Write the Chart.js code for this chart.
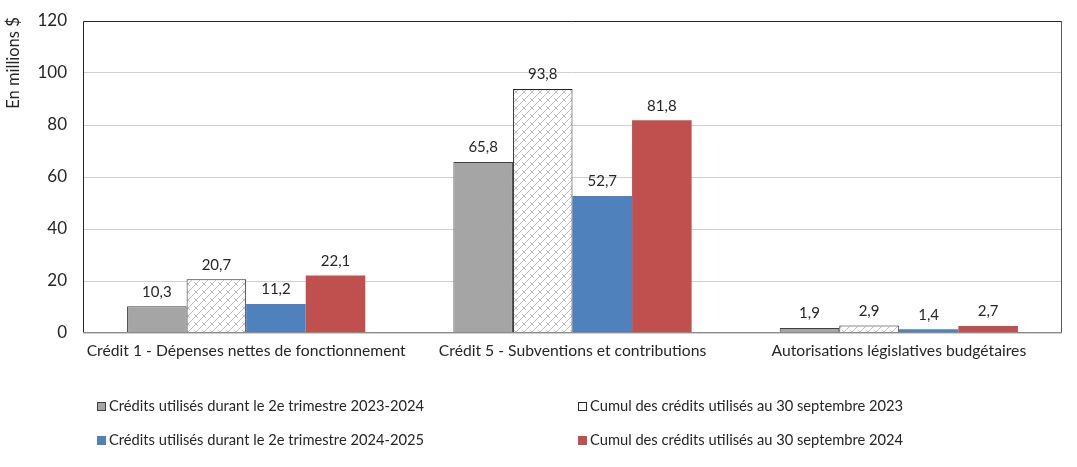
<!DOCTYPE html>
<html>
<head>
<meta charset="utf-8">
<script src="https://cdn.jsdelivr.net/npm/chart.js@4"></script>
<style>
  body { margin: 0; background: #fff; }
  #wrap { position: relative; width: 1077px; height: 467px; }
  .leg { position: absolute; font: 14.7px "Lato", sans-serif; color: #262626; white-space: nowrap; }
  .leg i { display: inline-block; width: 9px; height: 9px; margin-right: 3px; vertical-align: 0px; box-sizing: border-box; }
</style>
</head>
<body>
<div id="wrap">
  <canvas id="c" width="1077" height="467"></canvas>
</div>
<script>
const categories = [
  "Crédit 1 - Dépenses nettes de fonctionnement",
  "Crédit 5 - Subventions et contributions",
  "Autorisations législatives budgétaires"
];
const seriesNames = [
  "Crédits utilisés durant le 2e trimestre 2023-2024",
  "Cumul des crédits utilisés au 30 septembre 2023",
  "Crédits utilisés durant le 2e trimestre 2024-2025",
  "Cumul des crédits utilisés au 30 septembre 2024"
];
const q2_2023 = [10.3, 65.8, 1.9];
const cumul2023 = [20.7, 93.8, 2.9];
const q2_2024 = [11.2, 52.7, 1.4];
const cumul2024 = [22.1, 81.8, 2.7];
const yTicks = [0, 20, 40, 60, 80, 100, 120];

// brick-like hatch for the hollow series
function makeHatch() {
  const t = document.createElement("canvas");
  t.width = 8; t.height = 8;
  const g = t.getContext("2d");
  g.fillStyle = "#fff";
  g.fillRect(0, 0, 8, 8);
  g.strokeStyle = "#ababab";
  g.lineWidth = 0.8;
  g.beginPath();
  g.moveTo(0, 8); g.lineTo(8, 0);
  g.moveTo(2, 2); g.lineTo(6, 6);
  g.stroke();
  return g.createPattern(t, "repeat");
}
const hatch = makeHatch();

const fills = ["#a5a5a5", hatch, "#4f81bd", "#c0504d"];
const borders = ["#404040", "#262626", "#4f81bd", "#c0504d"];
const borderW = [1, 1, 0, 0];
const allData = [q2_2023, cumul2023, q2_2024, cumul2024];

const fmt = v => v.toFixed(1).replace(".", ",");

const valueLabels = {
  id: "valueLabels",
  afterDatasetsDraw(chart) {
    const ctx = chart.ctx;
    ctx.save();
    ctx.font = '15px "Lato", sans-serif';
    ctx.fillStyle = "#262626";
    ctx.textAlign = "center";
    ctx.textBaseline = "bottom";
    chart.data.datasets.forEach((ds, i) => {
      chart.getDatasetMeta(i).data.forEach((bar, j) => {
        ctx.fillText(fmt(ds.data[j]), bar.x, bar.y - 7);
      });
    });
    ctx.restore();
  }
};

const frame = {
  id: "frame",
  afterDraw(chart) {
    const a = chart.chartArea, ctx = chart.ctx;
    ctx.save();
    ctx.lineWidth = 1;
    ctx.strokeStyle = "#262626";
    ctx.beginPath();
    ctx.moveTo(a.left + 0.5, a.bottom); ctx.lineTo(a.left + 0.5, a.top + 0.5);
    ctx.lineTo(a.right - 0.5, a.top + 0.5);
    ctx.stroke();
    ctx.strokeStyle = "#595959";
    ctx.beginPath();
    ctx.moveTo(a.right - 0.5, a.top); ctx.lineTo(a.right - 0.5, a.bottom);
    ctx.stroke();
    ctx.strokeStyle = "#8c8c8c";
    ctx.beginPath();
    ctx.moveTo(a.left, a.bottom - 0.5); ctx.lineTo(a.right, a.bottom - 0.5);
    ctx.stroke();
    // axis title at the top of the value axis
    ctx.translate(14, 63);
    ctx.rotate(-Math.PI / 2);
    ctx.font = '16.5px "Lato", sans-serif';
    ctx.fillStyle = "#262626";
    ctx.textAlign = "center";
    ctx.textBaseline = "middle";
    ctx.fillText("En millions $", 0, 0);
    ctx.restore();
  }
};

new Chart(document.getElementById("c"), {
  type: "bar",
  data: {
    labels: categories,
    datasets: allData.map((d, i) => ({
      label: seriesNames[i],
      data: d,
      backgroundColor: fills[i],
      borderColor: borders[i],
      borderWidth: borderW[i],
      categoryPercentage: 0.73,
      barPercentage: 1
    }))
  },
  options: {
    responsive: false,
    animation: false,
    layout: { padding: { top: 21, right: 15, bottom: 94, left: 0 } },
    plugins: { legend: { display: false }, tooltip: { enabled: false } },
    scales: {
      x: {
        grid: { display: false, drawTicks: false },
        border: { display: false },
        ticks: { font: { family: "Lato", size: 15.7 }, color: "#262626", padding: 9, maxRotation: 0 },
        afterFit(s) { s.height = 40; }
      },
      y: {
        min: 0, max: 120,
        afterBuildTicks(s) { s.ticks = yTicks.map(v => ({ value: v })); },
        grid: { color: "#d0d0d0", drawTicks: true, tickLength: 12, tickColor: "rgba(0,0,0,0)" },
        border: { display: false },
        ticks: { font: { family: "Lato", size: 17 }, color: "#262626", padding: 4 },
        afterFit(s) { s.width = 83; }
      }
    }
  },
  plugins: [valueLabels, frame]
});

// legend laid out in two columns like the original
const legPos = [[97, 396], [578, 396], [97, 430], [578, 430]];
const wrap = document.getElementById("wrap");
seriesNames.forEach((n, i) => {
  const d = document.createElement("div");
  d.className = "leg";
  d.style.left = legPos[i][0] + "px";
  d.style.top = legPos[i][1] + "px";
  const m = document.createElement("i");
  if (i === 1) {
    m.style.border = "1px solid #262626";
    m.style.background = "#fff";
  } else {
    m.style.background = fills[i];
    if (i === 0) m.style.border = "1px solid #404040";
  }
  d.appendChild(m);
  d.appendChild(document.createTextNode(n));
  wrap.appendChild(d);
});
</script>
</body>
</html>
